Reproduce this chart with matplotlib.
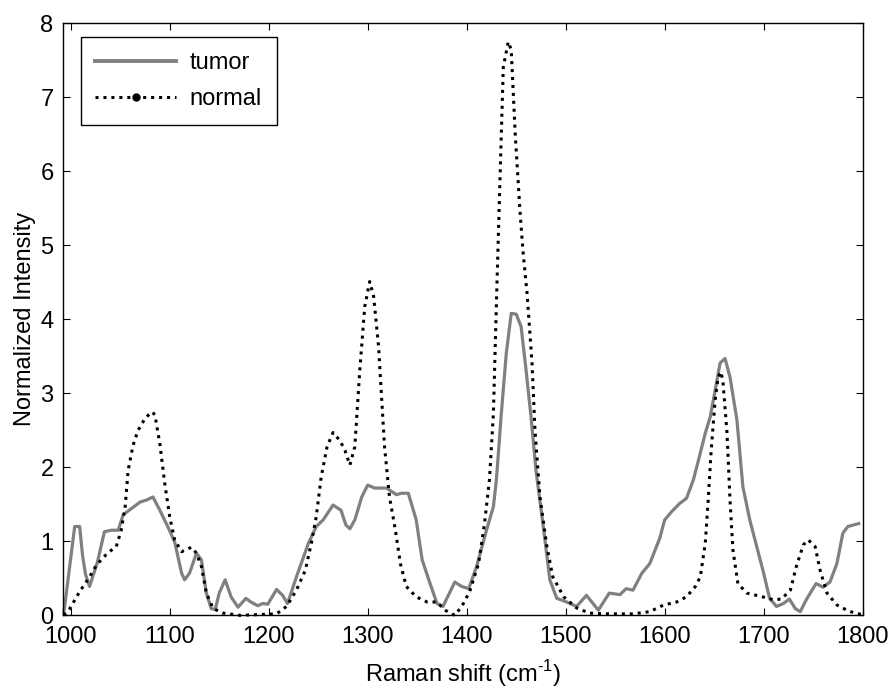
import matplotlib
matplotlib.use("Agg")
import matplotlib.pyplot as plt
from matplotlib.lines import Line2D

plt.rcParams['font.family'] = ['Liberation Sans', 'DejaVu Sans']
plt.rcParams['mathtext.fontset'] = 'custom'
plt.rcParams['mathtext.rm'] = 'Liberation Sans'

tumor_x = [993, 1004, 1009, 1012, 1015, 1019, 1027, 1034, 1041, 1048, 1053, 1063, 1070, 1077,
           1083, 1090, 1098, 1105, 1112, 1115, 1120, 1127, 1132, 1137, 1142, 1146, 1150, 1156,
           1162, 1169, 1177, 1182, 1189, 1194, 1199, 1208, 1214, 1219, 1228, 1240, 1248, 1255,
           1265, 1273, 1278, 1282, 1287, 1294, 1300, 1307, 1319, 1329, 1334, 1341, 1349, 1355,
           1363, 1370, 1376, 1388, 1395, 1402, 1410, 1420, 1427, 1430, 1435, 1440, 1445, 1450,
           1455, 1460, 1465, 1470, 1477, 1484, 1491, 1501, 1511, 1521, 1533, 1544, 1555, 1561,
           1568, 1577, 1585, 1595, 1600, 1607, 1615, 1622, 1629, 1635, 1641, 1646, 1651, 1656,
           1661, 1666, 1673, 1679, 1686, 1693, 1700, 1706, 1713, 1720, 1726, 1732, 1737, 1743,
           1753, 1760, 1767, 1774, 1780, 1785, 1796]
tumor_y = [0.03, 1.20, 1.20, 0.80, 0.55, 0.39, 0.72, 1.13, 1.15, 1.15, 1.36, 1.46, 1.53, 1.56,
           1.60, 1.42, 1.20, 0.99, 0.57, 0.48, 0.57, 0.84, 0.75, 0.30, 0.09, 0.08, 0.30, 0.48,
           0.25, 0.11, 0.23, 0.18, 0.13, 0.16, 0.15, 0.35, 0.27, 0.16, 0.52, 0.97, 1.20, 1.29,
           1.49, 1.42, 1.22, 1.17, 1.29, 1.60, 1.76, 1.72, 1.72, 1.63, 1.65, 1.65, 1.29, 0.75,
           0.43, 0.16, 0.12, 0.45, 0.39, 0.36, 0.66, 1.15, 1.47, 1.83, 2.73, 3.54, 4.08, 4.07,
           3.90, 3.31, 2.68, 1.96, 1.24, 0.48, 0.23, 0.18, 0.12, 0.27, 0.07, 0.30, 0.28, 0.36,
           0.34, 0.57, 0.70, 1.04, 1.29, 1.40, 1.51, 1.58, 1.83, 2.14, 2.46, 2.68, 3.04, 3.41,
           3.47, 3.22, 2.64, 1.74, 1.29, 0.93, 0.57, 0.23, 0.12, 0.16, 0.22, 0.09, 0.05, 0.21,
           0.43, 0.38, 0.45, 0.70, 1.11, 1.20, 1.24]

normal_x = [993, 999, 1009, 1019, 1026, 1035, 1041, 1046, 1051, 1055, 1058, 1063, 1068, 1075,
            1082, 1085, 1090, 1095, 1100, 1105, 1112, 1122, 1127, 1132, 1137, 1144, 1154, 1171,
            1208, 1218, 1228, 1237, 1243, 1248, 1253, 1259, 1265, 1272, 1277, 1282, 1287, 1292,
            1297, 1302, 1306, 1311, 1314, 1317, 1322, 1328, 1333, 1339, 1349, 1360, 1370, 1378,
            1388, 1395, 1403, 1412, 1418, 1423, 1427, 1430, 1434, 1437, 1442, 1445, 1449, 1454,
            1457, 1461, 1466, 1469, 1474, 1481, 1487, 1498, 1511, 1524, 1540, 1568, 1585, 1599,
            1612, 1622, 1631, 1636, 1641, 1644, 1647, 1651, 1654, 1657, 1659, 1663, 1666, 1669,
            1674, 1683, 1696, 1710, 1718, 1727, 1733, 1740, 1745, 1752, 1757, 1764, 1774, 1784,
            1792, 1800]
normal_y = [0.00, 0.09, 0.32, 0.52, 0.68, 0.81, 0.88, 0.93, 1.15, 1.47, 1.96, 2.30, 2.50, 2.66,
            2.75, 2.71, 2.32, 1.78, 1.33, 1.02, 0.86, 0.92, 0.84, 0.66, 0.30, 0.09, 0.03, 0.00,
            0.02, 0.12, 0.34, 0.61, 0.97, 1.33, 1.87, 2.28, 2.47, 2.36, 2.23, 2.03, 2.28, 3.31,
            4.17, 4.51, 4.31, 3.63, 2.95, 2.28, 1.60, 1.15, 0.70, 0.39, 0.25, 0.18, 0.18, 0.07,
            0.00, 0.12, 0.32, 0.70, 1.24, 1.83, 2.73, 4.20, 6.06, 7.41, 7.75, 7.64, 6.51, 5.43,
            4.90, 4.35, 3.41, 2.50, 1.60, 0.93, 0.52, 0.25, 0.10, 0.03, 0.02, 0.02, 0.05, 0.14,
            0.18, 0.25, 0.39, 0.52, 0.97, 1.56, 2.23, 2.91, 3.22, 3.29, 3.14, 2.46, 1.56, 0.88,
            0.43, 0.30, 0.26, 0.21, 0.22, 0.34, 0.66, 0.95, 1.02, 0.93, 0.61, 0.30, 0.14, 0.07,
            0.03, 0.01]

x_ticks = [1000, 1100, 1200, 1300, 1400, 1500, 1600, 1700, 1800]
y_ticks = [0, 1, 2, 3, 4, 5, 6, 7, 8]
series_labels = ["tumor", "normal"]
x_label = "Raman shift (cm$^{\\text{-1}}$)"
y_label = "Normalized Intensity"

FS = 17
fig = plt.figure(figsize=(8.93, 6.91), dpi=100)
ax = fig.add_axes([0.0709, 0.1095, 0.8951, 0.8568])

gray = "#808080"
ax.plot(tumor_x, tumor_y, color=gray, lw=2.3, solid_joinstyle='round', clip_on=False, zorder=2)
ax.plot(normal_x, normal_y, color="black", lw=2.2, linestyle=(0, (1, 1.6)), clip_on=False, zorder=3)

ax.set_xlim(992.5, 1800)
ax.set_ylim(0, 8)
ax.set_xticks(x_ticks)
ax.set_yticks(y_ticks)
ax.tick_params(direction='in', length=5, width=0.8, top=True, right=True,
               labelsize=FS, colors='black')
ax.tick_params(axis='x', pad=8)
ax.tick_params(axis='y', pad=7)
for s in ax.spines.values():
    s.set_linewidth(1.0)
ax.set_xlabel(x_label, fontsize=FS, labelpad=7)
ax.set_ylabel(y_label, fontsize=FS, labelpad=3)

handles = [Line2D([], [], color=gray, lw=2.8),
           Line2D([], [], color="black", lw=2.2, linestyle=(0, (1, 1.6)), marker='.', markersize=10)]
leg = ax.legend(handles, series_labels, loc='upper left', bbox_to_anchor=(0.0218, 0.9764),
                borderaxespad=0, fontsize=FS, handlelength=3.4, handletextpad=0.6,
                labelspacing=0.6, borderpad=0.62, fancybox=False, framealpha=1,
                edgecolor='black', numpoints=1)
leg.get_frame().set_linewidth(1.0)

fig.savefig("out.png", dpi=100)
